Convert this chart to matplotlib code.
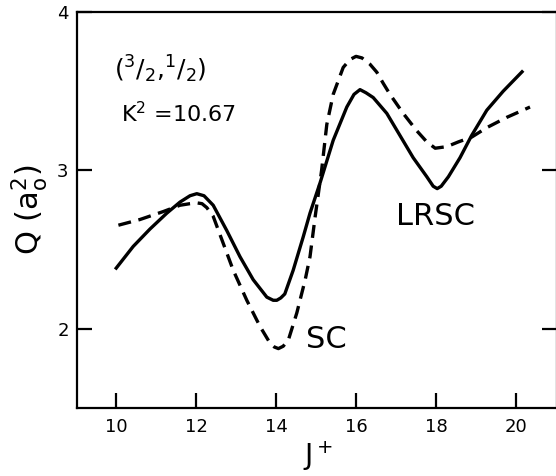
import matplotlib
matplotlib.use("Agg")
import matplotlib.pyplot as plt

# LRSC (solid) curve
lrsc_x = [9.98, 10.43, 10.85, 11.27, 11.6, 11.85, 12.02, 12.2, 12.43, 12.77, 13.1, 13.43, 13.77, 13.93, 14.02,
          14.12, 14.22, 14.43, 14.68, 14.85, 15.1, 15.43, 15.77, 15.95, 16.1, 16.25, 16.43, 16.77, 17.1, 17.43,
          17.77, 17.93, 18.03, 18.13, 18.31, 18.6, 18.89, 19.27, 19.68, 20.18]
lrsc_y = [2.375, 2.52, 2.63, 2.73, 2.80, 2.84, 2.853, 2.84, 2.78, 2.62, 2.455, 2.31, 2.20, 2.18, 2.18,
          2.195, 2.22, 2.37, 2.58, 2.73, 2.92, 3.19, 3.40, 3.48, 3.51, 3.49, 3.46, 3.36, 3.22, 3.08,
          2.96, 2.90, 2.885, 2.90, 2.96, 3.08, 3.22, 3.38, 3.50, 3.63]

# SC (dashed) curve
sc_x = [10.06, 10.6, 11.18, 11.6, 11.85, 12.02, 12.15, 12.27, 12.43, 12.68, 12.93, 13.27, 13.6, 13.85, 13.96,
        14.06, 14.18, 14.31, 14.52, 14.73, 14.85, 14.98, 15.14, 15.27, 15.43, 15.68, 15.85, 16.0, 16.15, 16.35,
        16.52, 16.68, 16.85, 17.18, 17.52, 17.77, 17.98, 18.27, 18.56, 18.89, 19.27, 19.77, 20.35]
sc_y = [2.654, 2.69, 2.74, 2.78, 2.79, 2.795, 2.79, 2.765, 2.71, 2.54, 2.37, 2.18, 2.015, 1.91, 1.885,
        1.875, 1.89, 1.93, 2.10, 2.31, 2.455, 2.71, 3.0, 3.29, 3.48, 3.65, 3.70, 3.72, 3.71, 3.67,
        3.62, 3.55, 3.48, 3.36, 3.25, 3.18, 3.14, 3.15, 3.18, 3.21, 3.27, 3.335, 3.40]

xticks = [10, 12, 14, 16, 18, 20]
xticklabels = ["10", "12", "14", "16", "18", "20"]
yticks = [2, 3, 4]
yticklabels = ["2", "3", "4"]

plt.rcParams['font.family'] = ['DejaVu Sans']
plt.rcParams['mathtext.default'] = 'regular'

W, H = 556, 476
fig = plt.figure(figsize=(W / 100, H / 100), dpi=100)
ax = fig.add_axes([77 / W, 68 / H, 480 / W, 396 / H])
ax.set_xlim(9.025, 21.025)
ax.set_ylim(1.5, 4.0)

ax.plot(lrsc_x, lrsc_y, color='black', lw=2.4, solid_capstyle='butt', solid_joinstyle='round')
ax.plot(sc_x, sc_y, color='black', lw=2.4, linestyle=(0, (3.9, 2.3)), dash_capstyle='butt')

for s in ax.spines.values():
    s.set_linewidth(1.6)

ax.set_xticks(xticks)
ax.set_xticklabels(xticklabels)
ax.set_yticks(yticks)
ax.set_yticklabels(yticklabels)
ax.tick_params(axis='x', direction='in', length=11, width=1.6, labelsize=13, pad=7, top=False)
ax.tick_params(axis='y', direction='in', length=11, width=1.6, labelsize=13, pad=6, right=True)

ax.text(9.95, 3.64, r"$(^3/_2{,}^1/_2)$", fontsize=18, ha='left', va='center')
ax.text(10.12, 3.36, r"K$^2$ =10.67", fontsize=16, ha='left', va='center')
ax.text(14.75, 1.93, "SC", fontsize=22, ha='left', va='center')
ax.text(17.0, 2.71, "LRSC", fontsize=22, ha='left', va='center')

fig.text(30 / W, 1 - 210 / H, r"Q $(a_o^2)$", fontsize=22, rotation=90, ha='center', va='center')
fig.text(318 / W, 1 - 456 / H, r"J$^+$", fontsize=20, ha='center', va='center')

fig.savefig("out.png", dpi=100)
